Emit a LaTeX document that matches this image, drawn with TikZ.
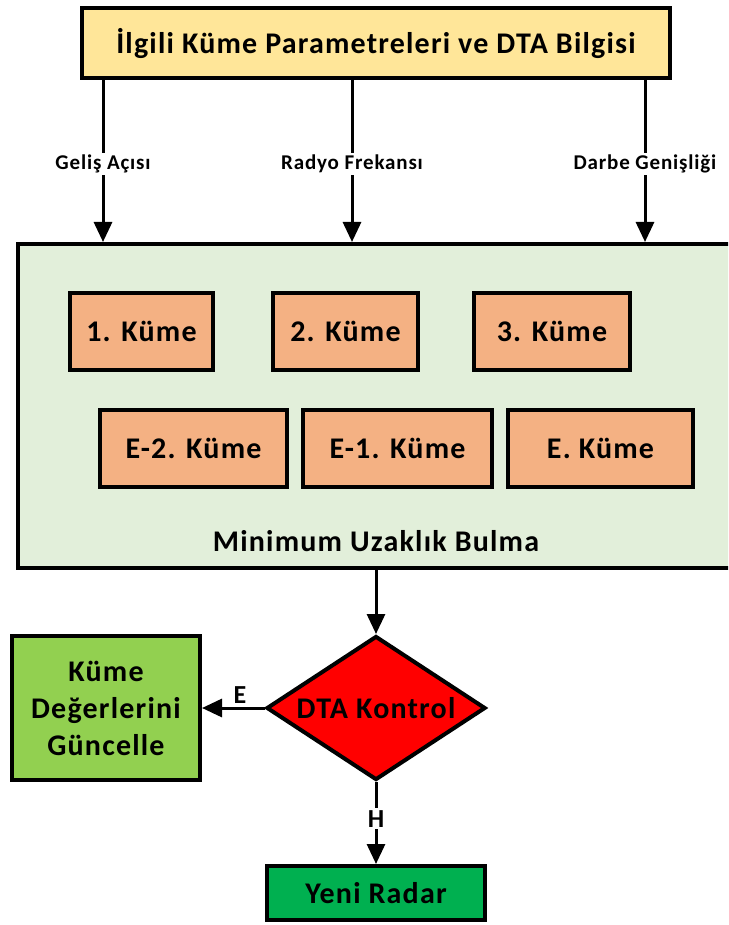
\documentclass[tikz,border=0pt]{standalone}
\usepackage{fontspec}
\setmainfont{Carlito}[LetterSpace=4]
\usetikzlibrary{shapes.geometric,arrows.meta}
\definecolor{infofill}{HTML}{FFE699}
\definecolor{panelfill}{HTML}{E2EFDA}
\definecolor{kumefill}{HTML}{F4B183}
\definecolor{updfill}{HTML}{92D050}
\definecolor{radarfill}{HTML}{00B050}
\newcommand{\bigtxt}{\fontsize{30}{37}\selectfont\bfseries}
\tikzset{
  box/.style={draw=black, line width=4pt, inner sep=0pt, font=\bigtxt, align=center},
  kume/.style={box, fill=kumefill, minimum height=77pt},
  arr/.style={line width=3pt, -{Triangle[width=18pt,length=20pt]}},
  lbl/.style={fill=white, inner sep=2pt, font=\fontsize{21}{24}\selectfont\bfseries},
  yn/.style={fill=white, inner sep=2pt, font=\fontsize{26}{28}\selectfont\bfseries}
}
\begin{document}
\begin{tikzpicture}[x=1pt, y=-1pt]
\clip (0,0) rectangle (728,925);
\fill[white] (0,0) rectangle (728,925);

% input block
\node[box, fill=infofill, minimum width=588pt, minimum height=70pt] (info) at (376,43) {İlgili Küme Parametreleri ve DTA Bilgisi};

% cluster panel
\node[box, fill=panelfill, minimum width=730pt, minimum height=324pt, anchor=north west] (panel) at (16,242) {};
\node[font=\bigtxt, inner sep=0pt] (minu) at (376,541) {Minimum Uzaklık Bulma};

\node[kume, minimum width=143pt] (k1) at (141.5,331.5) {1. Küme};
\node[kume, minimum width=145pt] (k2) at (345.5,331.5) {2. Küme};
\node[kume, minimum width=156pt] (k3) at (552,331.5) {3. Küme};
\node[kume, minimum width=187pt] (ke2) at (193.5,448.5) {E-2. Küme};
\node[kume, minimum width=189pt] (ke1) at (397.5,448.5) {E-1. Küme};
\node[kume, minimum width=185pt] (ke) at (600.5,448.5) {E. Küme};

% parameter arrows
\coordinate (c1) at (103,0);
\coordinate (c2) at (352,0);
\coordinate (c3) at (645,0);
\draw[arr] (info.south -| c1) -- node[lbl, pos=0.52] {Geliş Açısı} (panel.north -| c1);
\draw[arr] (info.south -| c2) -- node[lbl, pos=0.52] {Radyo Frekansı} (panel.north -| c2);
\draw[arr] (info.south -| c3) -- node[lbl, pos=0.52] {Darbe Genişliği} (panel.north -| c3);

% decision: the diamond is drawn at a fixed size, its label on top
\node[box, diamond, fill=red, minimum width=219pt, minimum height=144pt] (dta) at (376,708) {};
\node[font=\bigtxt, inner sep=0pt] (dtatxt) at (dta.center) {DTA Kontrol};
\coordinate (mid) at (376,0);
\draw[arr] (panel.south -| mid) -- (dta.north);

\node[box, fill=updfill, minimum width=188pt, minimum height=144pt] (upd) at (106,708) {Küme\\Değerlerini\\Güncelle};
\node[box, fill=radarfill, minimum width=218pt, minimum height=54pt] (radar) at (376,893) {Yeni Radar};

\draw[arr] (dta.west) -- (upd.east);
\node[yn] (evet) at (240,695) {E};
\draw[arr] (dta.south) -- node[yn, pos=0.45] (hayir) {H} (radar.north);
\end{tikzpicture}
\end{document}
